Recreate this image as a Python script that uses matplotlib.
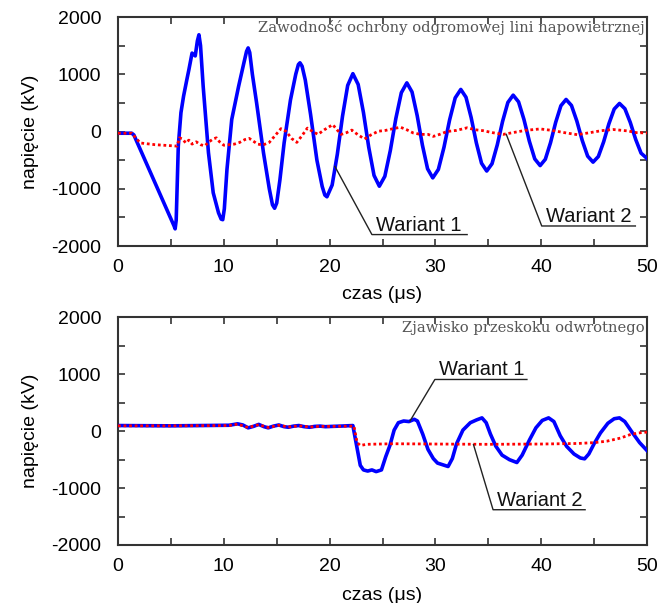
import numpy as np
import matplotlib
matplotlib.use("Agg")
import matplotlib.pyplot as plt
from matplotlib.ticker import MultipleLocator

# top panel: Zawodność ochrony odgromowej (time in us, voltage in kV)
top_w1_t = [0, 1.3, 1.5, 5.3, 5.4, 5.5, 5.7, 5.95, 6.2, 6.5, 6.7, 7.0, 7.3, 7.5, 7.65, 7.8, 8.05,
            8.55, 9.0, 9.5, 9.75, 9.9, 10.05, 10.3, 10.75, 11.4, 11.9, 12.15, 12.3, 12.45, 12.7,
            13.1, 13.75, 14.3, 14.6, 14.8, 15.0, 15.3, 15.7, 16.3, 16.8, 17.05, 17.2, 17.4, 17.7,
            18.2, 18.8, 19.3, 19.55, 19.75,
            20.24, 20.73, 21.22, 21.71, 22.2, 22.7, 23.2, 23.7, 24.2, 24.7,
            25.22, 25.74, 26.26, 26.78, 27.3, 27.79, 28.28, 28.77, 29.26, 29.75,
            30.28, 30.81, 31.34, 31.87, 32.4, 32.89, 33.38, 33.87, 34.36, 34.85,
            35.35, 35.85, 36.35, 36.85, 37.35, 37.86, 38.37, 38.88, 39.39, 39.9,
            40.39, 40.88, 41.37, 41.86, 42.35, 42.86, 43.37, 43.88, 44.39, 44.9,
            45.4, 45.9, 46.4, 46.9, 47.4, 47.91, 48.42, 48.93, 49.44, 50.0]
top_w1_v = [-30, -30, -60, -1650, -1700, -1550, -250, 330, 620, 900, 1080, 1370, 1320, 1580,
            1690, 1500, 790, -370, -1070, -1420, -1530, -1540, -1350, -660, 210, 790, 1200, 1400,
            1460, 1380, 1000, 500, -370, -1000, -1280, -1340, -1250, -850, -200, 550, 1000, 1170,
            1200, 1140, 900, 300, -500, -960, -1110, -1140,
            -935, -397, 267, 805, 1010, 822, 331, -276, -767, -955,
            -783, -331, 226, 678, 850, 691, 276, -236, -651, -810,
            -662, -276, 201, 587, 735, 599, 243, -198, -554, -690,
            -563, -232, 177, 508, 635, 518, 210, -170, -478, -595,
            -485, -196, 161, 450, 560, 455, 182, -157, -430, -535,
            -437, -181, 136, 392, 490, 398, 158, -138, -378, -470]

top_w2_t = [0, 1.3, 2.1, 3.5, 5.6, 5.8, 6.1, 6.4, 6.7, 7.0, 7.4, 7.8, 8.2, 8.6, 9.0, 9.3, 9.6,
            10.0, 10.5, 11.0, 11.5, 12.0, 12.4, 12.8, 13.2, 13.7, 14.3, 14.9, 15.4, 15.9, 16.4,
            16.9, 17.4, 17.9, 18.4, 18.9, 19.5, 20.3, 20.7, 21.1, 21.6, 22.1, 22.7, 23.3, 23.9,
            24.6, 25.3, 26.0, 26.7, 27.3, 27.9, 28.6, 29.3, 29.8, 30.4, 31.1, 32.0, 33.0, 33.8,
            34.5, 35.4, 36.4, 37.3, 38.5, 39.9, 41.0, 42.2, 43.4, 44.6, 45.7, 46.8, 48.2, 49.0, 50.0]
top_w2_v = [-30, -30, -200, -230, -255, -110, -130, -200, -150, -220, -180, -230, -250, -180,
            -130, -110, -180, -240, -230, -220, -190, -140, -120, -170, -220, -235, -190, -60,
            50, 0, -120, -190, -70, 60, 0, -50, 30, 120, 30, -50, -20, 25, -60, -130, -60, 5, 20,
            50, 75, 30, -25, -50, -50, -85, -50, 0, 20, 65, 30, 15, -20, -50, -20, 20, 45, 20,
            -20, -55, -20, 15, 35, 10, -20, -25]

# bottom panel: Zjawisko przeskoku odwrotnego
bot_w1_t = [0, 5, 10.5, 11.3, 11.8, 12.3, 12.8, 13.3, 13.8, 14.2, 14.7, 15.2, 15.7, 16.1, 16.6,
            17.1, 17.6, 18.1, 18.6, 19.1, 19.6, 20.2, 21.0, 22.2, 22.5, 22.9, 23.2, 23.6, 24.0,
            24.4, 24.9, 25.3, 25.7, 26.1, 26.5, 27.0, 27.5, 28.0, 28.3, 28.8, 29.3, 29.8, 30.2,
            30.7, 31.2, 31.6, 32.0, 32.6, 33.3, 33.9, 34.4, 34.8, 35.2, 35.7, 36.3, 37.0, 37.7,
            38.2, 38.9, 39.5, 40.1, 40.7, 41.2, 41.8, 42.4, 43.1, 43.7, 44.1, 44.5, 45.0, 45.6,
            46.3, 46.9, 47.4, 47.9, 48.6, 49.3, 50.0]
bot_w1_v = [100, 95, 105, 130, 110, 60, 85, 120, 80, 60, 90, 110, 80, 70, 90, 100, 80, 70, 85,
            90, 80, 85, 90, 100, -200, -600, -680, -700, -680, -710, -680, -450, -250, 20, 150,
            180, 170, 210, 180, -50, -320, -480, -560, -590, -620, -480, -220, 20, 150, 200, 235,
            150, -50, -260, -420, -500, -550, -420, -150, 60, 190, 235, 170, -80, -265, -400,
            -470, -485, -400, -220, -30, 140, 220, 235, 170, -20, -200, -340]

bot_w2_t = [0, 5, 10.5, 11.3, 12.3, 13.3, 14.2, 15.2, 16.1, 17.1, 18.1, 19.1, 20.2, 22.3, 22.6,
            22.9, 23.5, 26.0, 30.0, 35.0, 40.0, 43.5, 45.0, 46.2, 47.5, 48.4, 49.2, 50.0]
bot_w2_v = [95, 95, 100, 125, 65, 115, 65, 105, 75, 95, 75, 85, 85, 90, -200, -250, -230, -220,
            -225, -230, -225, -215, -200, -175, -120, -60, -30, -15]

titles = ["Zawodność ochrony odgromowej lini napowietrznej", "Zjawisko przeskoku odwrotnego"]
series_labels = ["Wariant 1", "Wariant 2"]

# label leaders: (point on curve, corner, end of underline) in data units
top_leaders = [((20.5, -610), (24.0, -1800), (33.0, -1800)),
               ((36.7, -50), (40.05, -1650), (48.9, -1650))]
bot_leaders = [((27.6, 180), (29.95, 910), (38.65, 910)),
               ((33.6, -235), (35.45, -1380), (44.15, -1380))]

plt.rcParams['font.family'] = ['Liberation Sans', 'DejaVu Sans']
plt.rcParams['axes.unicode_minus'] = False

fig = plt.figure(figsize=(6.72, 6.03), dpi=100)
ax1 = fig.add_axes([0.1756, 0.592, 0.7872, 0.3798])
ax2 = fig.add_axes([0.1756, 0.0962, 0.7872, 0.3773])

panels = [(ax1, top_w1_t, top_w1_v, top_w2_t, top_w2_v, titles[0], top_leaders, -0.176),
          (ax2, bot_w1_t, bot_w1_v, bot_w2_t, bot_w2_v, titles[1], bot_leaders, -0.183)]

for ax, t1, v1, t2, v2, title, leaders, xlab_y in panels:
    ax.plot(t1, v1, color='#0000ff', lw=2.6, zorder=3)
    ax.plot(t2, v2, color='#ff0000', lw=2.0, ls=(0, (1.0, 1.0)), zorder=4)

    ax.set_xlim(0, 50)
    ax.set_ylim(-2000, 2000)
    ax.xaxis.set_major_locator(MultipleLocator(10))
    ax.xaxis.set_minor_locator(MultipleLocator(5))
    ax.yaxis.set_major_locator(MultipleLocator(1000))
    ax.yaxis.set_minor_locator(MultipleLocator(500))
    ax.tick_params(which='both', direction='in', top=True, right=True, length=5,
                   width=1.2, color='#333333', labelsize=14)
    ax.tick_params(axis='x', pad=9.5)
    ax.tick_params(axis='y', pad=12)
    for s in ax.spines.values():
        s.set_linewidth(1.5)
        s.set_color('#333333')

    ax.set_xlabel('czas (\u03bcs)', fontsize=14)
    ax.set_ylabel('napięcie (kV)', fontsize=14)
    ax.xaxis.set_label_coords(0.5, xlab_y)
    ax.yaxis.set_label_coords(-0.15, 0.5)

    ax.text(0.995, 0.985, title, transform=ax.transAxes, ha='right', va='top',
            family='DejaVu Serif', fontsize=10.6, color='#555555')

    for (p, c, e), lab in zip(leaders, series_labels):
        ax.plot([p[0], c[0], e[0]], [p[1], c[1], e[1]], color='#222222', lw=1.0, zorder=5)
        ax.text(c[0] + 0.4, c[1] + 70, lab, ha='left', va='baseline', fontsize=14.5,
                color='#111111')

fig.savefig('out.png', dpi=100)
